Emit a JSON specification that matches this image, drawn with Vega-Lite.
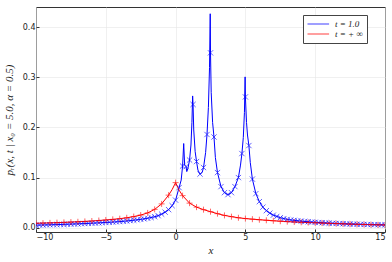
{
  "$schema": "https://vega.github.io/schema/vega-lite/v6.json",
  "width": 349,
  "height": 225,
  "autosize": {"type": "none"},
  "padding": {"left": 36, "top": 7, "right": 7, "bottom": 30},
  "background": "white",
  "config": {
    "view": {"stroke": "#333333", "strokeWidth": 1},
    "axis": {
      "gridColor": "#e6e6e6",
      "gridWidth": 0.6,
      "domain": false,
      "tickColor": "#333333",
      "tickSize": -3,
      "labelFont": "DejaVu Sans",
      "labelFontSize": 8,
      "labelColor": "#222222",
      "titleFont": "Liberation Serif",
      "titleFontStyle": "italic",
      "titleFontWeight": "normal",
      "titleFontSize": 11,
      "titleColor": "#222222"
    }
  },
  "datasets": {
    "curves": [
      {"series": "t = 1.0", "x": -10, "p": 0.005},
      {"series": "t = 1.0", "x": -9, "p": 0.0058},
      {"series": "t = 1.0", "x": -8, "p": 0.0066},
      {"series": "t = 1.0", "x": -7, "p": 0.0077},
      {"series": "t = 1.0", "x": -6, "p": 0.0089},
      {"series": "t = 1.0", "x": -5, "p": 0.0104},
      {"series": "t = 1.0", "x": -4.5, "p": 0.0112},
      {"series": "t = 1.0", "x": -4, "p": 0.0122},
      {"series": "t = 1.0", "x": -3.5, "p": 0.0134},
      {"series": "t = 1.0", "x": -3, "p": 0.0149},
      {"series": "t = 1.0", "x": -2.5, "p": 0.0166},
      {"series": "t = 1.0", "x": -2, "p": 0.0188},
      {"series": "t = 1.0", "x": -1.5, "p": 0.0219},
      {"series": "t = 1.0", "x": -1.25, "p": 0.024},
      {"series": "t = 1.0", "x": -1, "p": 0.027},
      {"series": "t = 1.0", "x": -0.75, "p": 0.031},
      {"series": "t = 1.0", "x": -0.5, "p": 0.036},
      {"series": "t = 1.0", "x": -0.25, "p": 0.044},
      {"series": "t = 1.0", "x": 0, "p": 0.055},
      {"series": "t = 1.0", "x": 0.25, "p": 0.08},
      {"series": "t = 1.0", "x": 0.4, "p": 0.095},
      {"series": "t = 1.0", "x": 0.5, "p": 0.123},
      {"series": "t = 1.0", "x": 0.58, "p": 0.168},
      {"series": "t = 1.0", "x": 0.65, "p": 0.125},
      {"series": "t = 1.0", "x": 0.75, "p": 0.122},
      {"series": "t = 1.0", "x": 0.8, "p": 0.112},
      {"series": "t = 1.0", "x": 0.88, "p": 0.118},
      {"series": "t = 1.0", "x": 1.0, "p": 0.135},
      {"series": "t = 1.0", "x": 1.1, "p": 0.165},
      {"series": "t = 1.0", "x": 1.17, "p": 0.21},
      {"series": "t = 1.0", "x": 1.22, "p": 0.263},
      {"series": "t = 1.0", "x": 1.25, "p": 0.246},
      {"series": "t = 1.0", "x": 1.3, "p": 0.195},
      {"series": "t = 1.0", "x": 1.4, "p": 0.152},
      {"series": "t = 1.0", "x": 1.5, "p": 0.132},
      {"series": "t = 1.0", "x": 1.6, "p": 0.115},
      {"series": "t = 1.0", "x": 1.75, "p": 0.107},
      {"series": "t = 1.0", "x": 1.9, "p": 0.11},
      {"series": "t = 1.0", "x": 2.0, "p": 0.12},
      {"series": "t = 1.0", "x": 2.15, "p": 0.15},
      {"series": "t = 1.0", "x": 2.25, "p": 0.186},
      {"series": "t = 1.0", "x": 2.35, "p": 0.24},
      {"series": "t = 1.0", "x": 2.43, "p": 0.32},
      {"series": "t = 1.0", "x": 2.48, "p": 0.427},
      {"series": "t = 1.0", "x": 2.5, "p": 0.349},
      {"series": "t = 1.0", "x": 2.55, "p": 0.27},
      {"series": "t = 1.0", "x": 2.65, "p": 0.21},
      {"series": "t = 1.0", "x": 2.75, "p": 0.181},
      {"series": "t = 1.0", "x": 2.85, "p": 0.14},
      {"series": "t = 1.0", "x": 3.0, "p": 0.11},
      {"series": "t = 1.0", "x": 3.25, "p": 0.082},
      {"series": "t = 1.0", "x": 3.5, "p": 0.07},
      {"series": "t = 1.0", "x": 3.75, "p": 0.066},
      {"series": "t = 1.0", "x": 4.0, "p": 0.07},
      {"series": "t = 1.0", "x": 4.25, "p": 0.082},
      {"series": "t = 1.0", "x": 4.5, "p": 0.1},
      {"series": "t = 1.0", "x": 4.65, "p": 0.125},
      {"series": "t = 1.0", "x": 4.75, "p": 0.148},
      {"series": "t = 1.0", "x": 4.85, "p": 0.18},
      {"series": "t = 1.0", "x": 4.93, "p": 0.23},
      {"series": "t = 1.0", "x": 4.98, "p": 0.301},
      {"series": "t = 1.0", "x": 5.0, "p": 0.261},
      {"series": "t = 1.0", "x": 5.08, "p": 0.21},
      {"series": "t = 1.0", "x": 5.15, "p": 0.185},
      {"series": "t = 1.0", "x": 5.25, "p": 0.164},
      {"series": "t = 1.0", "x": 5.35, "p": 0.13},
      {"series": "t = 1.0", "x": 5.5, "p": 0.097},
      {"series": "t = 1.0", "x": 5.75, "p": 0.068},
      {"series": "t = 1.0", "x": 6.0, "p": 0.052},
      {"series": "t = 1.0", "x": 6.25, "p": 0.041},
      {"series": "t = 1.0", "x": 6.5, "p": 0.034},
      {"series": "t = 1.0", "x": 6.75, "p": 0.029},
      {"series": "t = 1.0", "x": 7.0, "p": 0.025},
      {"series": "t = 1.0", "x": 7.5, "p": 0.02},
      {"series": "t = 1.0", "x": 8, "p": 0.0165},
      {"series": "t = 1.0", "x": 8.5, "p": 0.0146},
      {"series": "t = 1.0", "x": 9, "p": 0.0131},
      {"series": "t = 1.0", "x": 10, "p": 0.0108},
      {"series": "t = 1.0", "x": 11, "p": 0.0091},
      {"series": "t = 1.0", "x": 12, "p": 0.0079},
      {"series": "t = 1.0", "x": 13, "p": 0.0069},
      {"series": "t = 1.0", "x": 14, "p": 0.0062},
      {"series": "t = 1.0", "x": 15, "p": 0.0056},
      {"series": "t = + ∞", "x": -10, "p": 0.0088},
      {"series": "t = + ∞", "x": -9, "p": 0.0096},
      {"series": "t = + ∞", "x": -8, "p": 0.0106},
      {"series": "t = + ∞", "x": -7, "p": 0.0118},
      {"series": "t = + ∞", "x": -6, "p": 0.0133},
      {"series": "t = + ∞", "x": -5, "p": 0.0154},
      {"series": "t = + ∞", "x": -4.5, "p": 0.0166},
      {"series": "t = + ∞", "x": -4, "p": 0.018},
      {"series": "t = + ∞", "x": -3.5, "p": 0.0198},
      {"series": "t = + ∞", "x": -3, "p": 0.0222},
      {"series": "t = + ∞", "x": -2.5, "p": 0.0252},
      {"series": "t = + ∞", "x": -2, "p": 0.0295},
      {"series": "t = + ∞", "x": -1.5, "p": 0.0365},
      {"series": "t = + ∞", "x": -1, "p": 0.0475},
      {"series": "t = + ∞", "x": -0.5, "p": 0.065},
      {"series": "t = + ∞", "x": -0.25, "p": 0.076},
      {"series": "t = + ∞", "x": 0, "p": 0.09},
      {"series": "t = + ∞", "x": 0.25, "p": 0.075},
      {"series": "t = + ∞", "x": 0.5, "p": 0.064},
      {"series": "t = + ∞", "x": 1, "p": 0.049},
      {"series": "t = + ∞", "x": 1.5, "p": 0.041},
      {"series": "t = + ∞", "x": 2, "p": 0.036},
      {"series": "t = + ∞", "x": 2.5, "p": 0.032},
      {"series": "t = + ∞", "x": 3, "p": 0.028},
      {"series": "t = + ∞", "x": 3.5, "p": 0.0245},
      {"series": "t = + ∞", "x": 4, "p": 0.022},
      {"series": "t = + ∞", "x": 4.5, "p": 0.0198},
      {"series": "t = + ∞", "x": 5, "p": 0.0182},
      {"series": "t = + ∞", "x": 6, "p": 0.0159},
      {"series": "t = + ∞", "x": 7, "p": 0.0138},
      {"series": "t = + ∞", "x": 8, "p": 0.0121},
      {"series": "t = + ∞", "x": 9, "p": 0.0108},
      {"series": "t = + ∞", "x": 10, "p": 0.0098},
      {"series": "t = + ∞", "x": 11, "p": 0.0087},
      {"series": "t = + ∞", "x": 12, "p": 0.0077},
      {"series": "t = + ∞", "x": 13, "p": 0.0068},
      {"series": "t = + ∞", "x": 14, "p": 0.006},
      {"series": "t = + ∞", "x": 15, "p": 0.0054}
    ],
    "blueMarks": [
      {"x": -10, "p": 0.005}, {"x": -9.75, "p": 0.0052}, {"x": -9.5, "p": 0.0054}, {"x": -9.25, "p": 0.0056},
      {"x": -9, "p": 0.0058}, {"x": -8.75, "p": 0.006}, {"x": -8.5, "p": 0.0062}, {"x": -8.25, "p": 0.0064},
      {"x": -8, "p": 0.0066}, {"x": -7.75, "p": 0.0069}, {"x": -7.5, "p": 0.0071}, {"x": -7.25, "p": 0.0074},
      {"x": -7, "p": 0.0077}, {"x": -6.75, "p": 0.008}, {"x": -6.5, "p": 0.0083}, {"x": -6.25, "p": 0.0086},
      {"x": -6, "p": 0.0089}, {"x": -5.75, "p": 0.0092}, {"x": -5.5, "p": 0.0096}, {"x": -5.25, "p": 0.01},
      {"x": -5, "p": 0.0104}, {"x": -4.75, "p": 0.0108}, {"x": -4.5, "p": 0.0112}, {"x": -4.25, "p": 0.0117},
      {"x": -4, "p": 0.0122}, {"x": -3.75, "p": 0.0128}, {"x": -3.5, "p": 0.0134}, {"x": -3.25, "p": 0.0141},
      {"x": -3, "p": 0.0149}, {"x": -2.75, "p": 0.0157}, {"x": -2.5, "p": 0.0166}, {"x": -2.25, "p": 0.0176},
      {"x": -2, "p": 0.0188}, {"x": -1.75, "p": 0.0202}, {"x": -1.5, "p": 0.0219}, {"x": -1.25, "p": 0.024},
      {"x": -1, "p": 0.027}, {"x": -0.75, "p": 0.031}, {"x": -0.5, "p": 0.036}, {"x": -0.25, "p": 0.044},
      {"x": 0, "p": 0.055}, {"x": 0.25, "p": 0.08}, {"x": 0.5, "p": 0.123}, {"x": 0.75, "p": 0.122},
      {"x": 1, "p": 0.135}, {"x": 1.25, "p": 0.246}, {"x": 1.5, "p": 0.132}, {"x": 1.75, "p": 0.107},
      {"x": 2, "p": 0.12}, {"x": 2.25, "p": 0.186}, {"x": 2.5, "p": 0.349}, {"x": 2.75, "p": 0.181},
      {"x": 3, "p": 0.11}, {"x": 3.25, "p": 0.082}, {"x": 3.5, "p": 0.07}, {"x": 3.75, "p": 0.066},
      {"x": 4, "p": 0.07}, {"x": 4.25, "p": 0.082}, {"x": 4.5, "p": 0.1}, {"x": 4.75, "p": 0.148},
      {"x": 5, "p": 0.261}, {"x": 5.25, "p": 0.164}, {"x": 5.5, "p": 0.097}, {"x": 5.75, "p": 0.068},
      {"x": 6, "p": 0.052}, {"x": 6.25, "p": 0.041}, {"x": 6.5, "p": 0.034}, {"x": 6.75, "p": 0.029},
      {"x": 7, "p": 0.025}, {"x": 7.25, "p": 0.0225}, {"x": 7.5, "p": 0.02}, {"x": 7.75, "p": 0.018},
      {"x": 8, "p": 0.0165}, {"x": 8.25, "p": 0.0155}, {"x": 8.5, "p": 0.0146}, {"x": 8.75, "p": 0.0138},
      {"x": 9, "p": 0.0131}, {"x": 9.25, "p": 0.0124}, {"x": 9.5, "p": 0.0118}, {"x": 9.75, "p": 0.0113},
      {"x": 10, "p": 0.0108}, {"x": 10.25, "p": 0.0103}, {"x": 10.5, "p": 0.0099}, {"x": 10.75, "p": 0.0095},
      {"x": 11, "p": 0.0091}, {"x": 11.25, "p": 0.0088}, {"x": 11.5, "p": 0.0085}, {"x": 11.75, "p": 0.0082},
      {"x": 12, "p": 0.0079}, {"x": 12.25, "p": 0.0076}, {"x": 12.5, "p": 0.0074}, {"x": 12.75, "p": 0.0071},
      {"x": 13, "p": 0.0069}, {"x": 13.25, "p": 0.0067}, {"x": 13.5, "p": 0.0065}, {"x": 13.75, "p": 0.0063},
      {"x": 14, "p": 0.0062}, {"x": 14.25, "p": 0.006}, {"x": 14.5, "p": 0.0059}, {"x": 14.75, "p": 0.0057},
      {"x": 15, "p": 0.0056}
    ],
    "redMarks": [
      {"x": -10, "p": 0.0088}, {"x": -9.5, "p": 0.0092}, {"x": -9, "p": 0.0096}, {"x": -8.5, "p": 0.0101},
      {"x": -8, "p": 0.0106}, {"x": -7.5, "p": 0.0112}, {"x": -7, "p": 0.0118}, {"x": -6.5, "p": 0.0125},
      {"x": -6, "p": 0.0133}, {"x": -5.5, "p": 0.0143}, {"x": -5, "p": 0.0154}, {"x": -4.5, "p": 0.0166},
      {"x": -4, "p": 0.018}, {"x": -3.5, "p": 0.0198}, {"x": -3, "p": 0.0222}, {"x": -2.5, "p": 0.0252},
      {"x": -2, "p": 0.0295}, {"x": -1.5, "p": 0.0365}, {"x": -1, "p": 0.0475}, {"x": -0.5, "p": 0.065},
      {"x": 0, "p": 0.09}, {"x": 0.5, "p": 0.064}, {"x": 1, "p": 0.049}, {"x": 1.5, "p": 0.041},
      {"x": 2, "p": 0.036}, {"x": 2.5, "p": 0.032}, {"x": 3, "p": 0.028}, {"x": 3.5, "p": 0.0245},
      {"x": 4, "p": 0.022}, {"x": 4.5, "p": 0.0198}, {"x": 5, "p": 0.0182}, {"x": 5.5, "p": 0.017},
      {"x": 6, "p": 0.0159}, {"x": 6.5, "p": 0.0148}, {"x": 7, "p": 0.0138}, {"x": 7.5, "p": 0.0129},
      {"x": 8, "p": 0.0121}, {"x": 8.5, "p": 0.0114}, {"x": 9, "p": 0.0108}, {"x": 9.5, "p": 0.0103},
      {"x": 10, "p": 0.0098}, {"x": 10.5, "p": 0.0092}, {"x": 11, "p": 0.0087}, {"x": 11.5, "p": 0.0082},
      {"x": 12, "p": 0.0077}, {"x": 12.5, "p": 0.0072}, {"x": 13, "p": 0.0068}, {"x": 13.5, "p": 0.0064},
      {"x": 14, "p": 0.006}, {"x": 14.5, "p": 0.0057}, {"x": 15, "p": 0.0054}
    ]
  },
  "encoding": {
    "x": {
      "field": "x", "type": "quantitative",
      "scale": {"domain": [-10, 15], "nice": false, "zero": false},
      "axis": {"values": [-10, -5, 0, 5, 10, 15], "title": "x", "labelPadding": 4, "titlePadding": 3, "format": "d"}
    },
    "y": {
      "field": "p", "type": "quantitative",
      "scale": {"domain": [-0.0086, 0.4405], "nice": false, "zero": false},
      "axis": {"values": [0, 0.1, 0.2, 0.3, 0.4], "format": ".1f", "title": "pᵣ(x, t | x₀ = 5.0, α = 0.5)", "labelPadding": 4, "titlePadding": 8}
    }
  },
  "layer": [
    {
      "data": {"name": "curves"},
      "mark": {"type": "line", "strokeWidth": 1, "clip": true},
      "encoding": {
        "color": {
          "field": "series", "type": "nominal",
          "scale": {"domain": ["t = 1.0", "t = + ∞"], "range": ["#0000ff", "#ff0000"]},
          "legend": {
            "title": null,
            "orient": "none",
            "legendX": 267,
            "legendY": 8,
            "symbolType": "M-1,0L3.8,0",
            "symbolSize": 81,
            "symbolStrokeWidth": 1,
            "symbolOpacity": 0.75,
            "symbolFillColor": "transparent",
            "labelFont": "Liberation Serif",
            "labelFontStyle": "italic",
            "labelFontSize": 9,
            "labelColor": "#222222",
            "labelOffset": 18,
            "rowPadding": 0,
            "padding": 4,
            "fillColor": "white",
            "strokeColor": "#444444",
            "cornerRadius": 0
          }
        },
        "order": {"field": "x", "type": "quantitative"}
      }
    },
    {
      "data": {"name": "blueMarks"},
      "mark": {"type": "point", "shape": "M-1,-1L1,1M-1,1L1,-1", "size": 28, "filled": false, "stroke": "#0000ff", "strokeWidth": 1, "opacity": 0.6, "clip": true}
    },
    {
      "data": {"name": "redMarks"},
      "mark": {"type": "point", "shape": "M-1,0L1,0M0,-1L0,1", "size": 36, "filled": false, "stroke": "#ff0000", "strokeWidth": 1, "opacity": 0.6, "clip": true}
    }
  ]
}
